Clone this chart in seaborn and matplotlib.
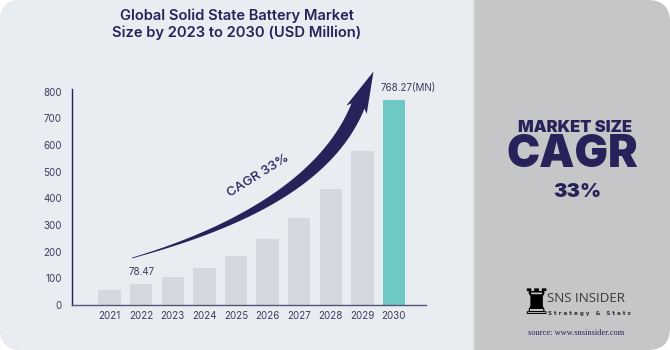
import numpy as np
import pandas as pd
import matplotlib
matplotlib.use("Agg")
import matplotlib.pyplot as plt
import matplotlib.patches as mpatches
import matplotlib.transforms as mtransforms
import seaborn as sns

# ===============================
# DATA
# ===============================
years = ["2021", "2022", "2023", "2024", "2025", "2026", "2027", "2028", "2029", "2030"]
market_size = [55, 78.47, 104.4, 138.8, 184.6, 245.5, 326.5, 434.3, 577.6, 768.27]
y_ticks = [0, 100, 200, 300, 400, 500, 600, 700, 800]
title_text = "Global Solid State Battery Market\nSize by 2023 to 2030 (USD Million)"
first_label = "78.47"
last_label = "768.27(MN)"
cagr_label = "CAGR 33%"

# ===============================
# STYLE
# ===============================
NAVY = "#27235a"
BAR_GRAY = "#d3d9df"
TEAL = "#6ec9c4"
BG_LEFT = "#e9ecf1"
BG_RIGHT = "#c5c6c8"
TICK_COLOR = "#3c3c5e"

sns.set_theme(style="white")
plt.rcParams["font.family"] = ["Inter", "DejaVu Sans"]

W, H = 670, 350
fig = plt.figure(figsize=(W / 100, H / 100), dpi=100, facecolor="white")

# pixel coords (origin top-left) -> figure
px = mtransforms.Affine2D().scale(1 / W, -1 / H).translate(0, 1) + fig.transFigure

# background panels
fig.patches.append(mpatches.FancyBboxPatch((20, 20), W - 40, H - 40,
                                           boxstyle="round,pad=20,rounding_size=22",
                                           fc=BG_RIGHT, ec="none", transform=px, zorder=-5))
fig.patches.append(mpatches.FancyBboxPatch((20, 20), 100, H - 40,
                                           boxstyle="round,pad=20,rounding_size=22",
                                           fc=BG_LEFT, ec="none", transform=px, zorder=-4))
fig.patches.append(mpatches.Rectangle((60, 0), 414, H, fc=BG_LEFT, ec="none",
                                      transform=px, zorder=-3))
fig.patches.append(mpatches.Rectangle((473, 0), 2, H, fc="#d6d7d9", ec="none",
                                      transform=px, zorder=-3))

# ===============================
# BAR CHART
# ===============================
ax = fig.add_axes([0.107, 0.1286, 0.529, 0.616])
ax.set_facecolor("none")
colors = [BAR_GRAY] * (len(years) - 1) + [TEAL]
df = pd.DataFrame({"year": years, "value": market_size})
sns.barplot(data=df, x="year", y="value", hue="year", palette=colors,
            legend=False, width=0.71, ax=ax, saturation=1, linewidth=0)

ax.set_xlim(-1.2, 10.02)
ax.set_ylim(0, 808)
ax.set_yticks(y_ticks)
ax.set_xlabel("")
ax.set_ylabel("")
ax.tick_params(axis="both", length=0, labelsize=7, labelcolor=TICK_COLOR)
ax.tick_params(axis="y", pad=7)
ax.tick_params(axis="x", pad=4.5)
for s in ["top", "right"]:
    ax.spines[s].set_visible(False)
ax.spines["left"].set_color(NAVY)
ax.spines["bottom"].set_color("#55557a")
ax.spines["left"].set_linewidth(1.0)
ax.spines["bottom"].set_linewidth(1.0)
ax.grid(False)

ax.annotate(first_label, (1, market_size[1]), xytext=(0, 9), textcoords="offset points",
            ha="center", va="center", fontsize=7, color=TICK_COLOR)
ax.annotate(last_label, (9, market_size[-1]), xytext=(10, 8.6), textcoords="offset points",
            ha="center", va="center", fontsize=7, color=TICK_COLOR, annotation_clip=False)

# ===============================
# CURVED ARROW (pixel coords)
# ===============================
S = np.array([132.0, 258.0])
C = np.array([318.0, 205.0])
E = np.array([358.0, 106.0])
T = np.array([373.5, 71.5])
t = np.linspace(0, 1, 80)
B = ((1 - t) ** 2)[:, None] * S + (2 * (1 - t) * t)[:, None] * C + (t ** 2)[:, None] * E
D = (2 * (1 - t))[:, None] * (C - S) + (2 * t)[:, None] * (E - C)
D = D / np.linalg.norm(D, axis=1)[:, None]
N = np.stack([-D[:, 1], D[:, 0]], axis=1)
w = 0.4 + 6.6 * np.sin(np.pi * 0.5 * t) ** 1.3
left = B + N * w[:, None]
right = B - N * w[:, None]
d_end, n_end = D[-1], N[-1]
head = [E + n_end * 11 - d_end * 4, T, E - n_end * 11 - d_end * 4]
pts = np.vstack([left, [head[0]], [T], [head[2]], right[::-1]])
fig.patches.append(mpatches.Polygon(pts, closed=True, fc=NAVY, ec="none",
                                    transform=px, zorder=5))

fig.text(258 / W, 1 - 176 / H, cagr_label, rotation=32, rotation_mode="anchor",
         ha="center", va="center", fontsize=9.5, color=NAVY, fontweight="medium")

# ===============================
# TITLE
# ===============================
fig.text(237 / W, 1 - 24.5 / H, title_text, ha="center", va="center",
         fontsize=10.6, fontweight="semibold", color=NAVY, linespacing=1.2)

# ===============================
# RIGHT PANEL
# ===============================
fig.text(575 / W, 1 - 128 / H, "MARKET SIZE", ha="center", va="center",
         fontsize=11.8, fontweight="black", color=NAVY)
fig.text(572 / W, 1 - 155 / H, "CAGR", ha="center", va="center",
         fontsize=32, fontweight="black", color=NAVY)
fig.text(577 / W, 1 - 192 / H, "33%", ha="center", va="center",
         fontsize=14.5, fontweight="black", color=NAVY)

# logo
fig.text(536 / W, 1 - 304 / H, "\u265C", ha="center", va="center",
         fontsize=25, color="black", family=["DejaVu Sans"])
fig.text(547 / W, 1 - 299 / H, "SNS INSIDER", ha="left", va="center",
         fontsize=9.6, color="#3a3a3a", family=["Open Sans", "DejaVu Sans"])
fig.text(548 / W, 1 - 313 / H, "S t r a t e g y   &   S t a t s", ha="left", va="center",
         fontsize=4.1, fontweight="bold", color="#333333", family=["DejaVu Sans"])
fig.text(576 / W, 1 - 333 / H, "source: www.snsinsider.com", ha="center", va="center",
         fontsize=6, color=NAVY, family=["Liberation Serif", "DejaVu Serif"])

fig.savefig("out.png", dpi=100, facecolor="white")
